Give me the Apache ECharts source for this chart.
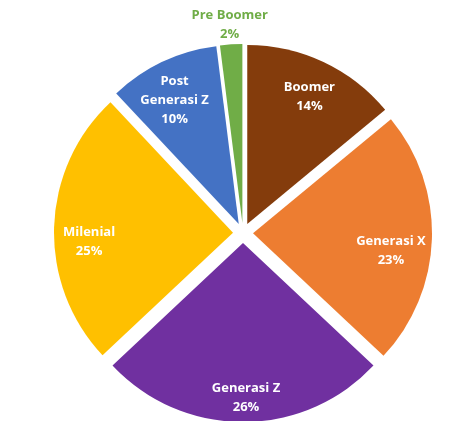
<!DOCTYPE html>
<html>
<head>
<meta charset="utf-8">
<script src="https://cdn.jsdelivr.net/npm/echarts@6/dist/echarts.min.js"></script>
<style>
  html, body { margin: 0; padding: 0; background: #fff; }
  #chart { width: 460px; height: 421px; }
</style>
</head>
<body>
<div id="chart"></div>
<script>
// Generation share
const categories = ['Boomer', 'Generasi X', 'Generasi Z', 'Milenial', 'Post\nGenerasi Z', 'Pre Boomer'];
const shares = [14, 23, 26, 25, 10, 2];
const colors = ['#843C0C', '#ED7D31', '#7030A0', '#FFC000', '#4472C4', '#70AD47'];

const CENTER = [243, 233];
const R = 179;
const OFFSET = 10;
const FONT = '"Open Sans", "Noto Sans", sans-serif';

// small per-label shifts [dx, dy]: dx via side padding, dy via a spacer line on top
const labelShift = [[0, 5], [-8, 13], [3, 9], [2, 14], [-2, 8], [0, 3]];

function shiftLabel(i, show) {
  const dx = labelShift[i][0], dy = labelShift[i][1];
  return {
    show: show,
    padding: [0, Math.max(0, -2 * dx), 0, Math.max(0, 2 * dx)],
    rich: { s: { fontSize: 1, lineHeight: Math.max(1, 2 * dy) } }
  };
}

function slices(styleFn) {
  return categories.map((name, i) => Object.assign({
    name: name,
    value: shares[i],
    selected: true
  }, styleFn(i)));
}

const labelBase = {
  position: 'inside',
  fontFamily: FONT,
  fontWeight: 'bold',
  fontSize: 13,
  lineHeight: 19,
  align: 'center',
  formatter: p => '{s| }\n' + p.name + '\n' + p.value + '%'
};

const chart = echarts.init(document.getElementById('chart'), null, { renderer: 'canvas' });

chart.setOption({
  animation: false,
  backgroundColor: '#fff',
  series: [
    {
      // coloured, exploded slices
      type: 'pie',
      center: CENTER,
      radius: [0, R],
      startAngle: 90,
      clockwise: true,
      selectedMode: 'multiple',
      selectedOffset: OFFSET,
      silent: true,
      label: { show: false },
      labelLine: { show: false },
      data: slices(i => ({
        itemStyle: { color: colors[i] },
        select: { itemStyle: { color: colors[i], borderWidth: 0 } }
      }))
    },
    {
      // transparent ring carrying the in-slice labels
      type: 'pie',
      center: CENTER,
      radius: [107, R],
      startAngle: 90,
      selectedMode: 'multiple',
      selectedOffset: OFFSET,
      silent: true,
      itemStyle: { color: 'transparent' },
      select: { itemStyle: { color: 'transparent', borderWidth: 0 } },
      labelLine: { show: false },
      label: Object.assign({ show: true, color: '#fff' }, labelBase),
      data: slices(i => ({ label: shiftLabel(i, i !== 5) }))
    },
    {
      // outer ring for the label of the thin slice
      type: 'pie',
      center: CENTER,
      radius: [R, 219],
      startAngle: 90,
      selectedMode: 'multiple',
      selectedOffset: OFFSET,
      silent: true,
      itemStyle: { color: 'transparent' },
      select: { itemStyle: { color: 'transparent', borderWidth: 0 } },
      labelLine: { show: false },
      label: Object.assign({ show: false, color: '#70AD47' }, labelBase),
      data: slices(i => ({ label: shiftLabel(i, i === 5) }))
    }
  ]
});
</script>
</body>
</html>
